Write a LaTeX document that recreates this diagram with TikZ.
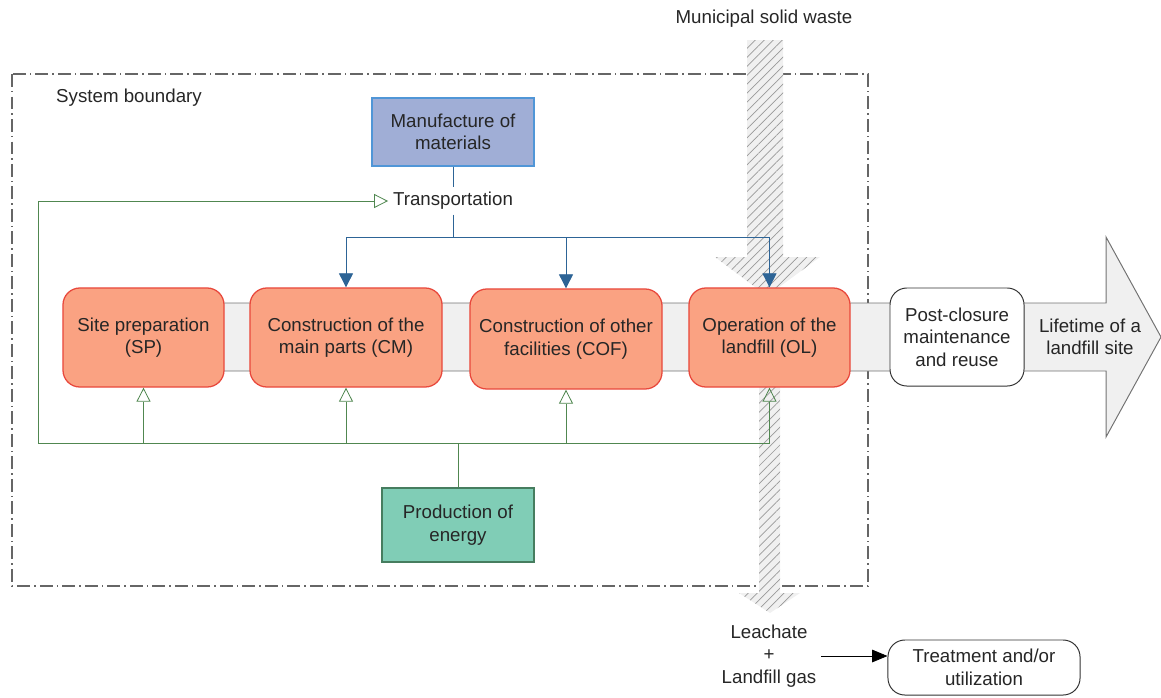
\documentclass[tikz,border=0pt]{standalone}
\usepackage{fontspec}
\setmainfont{Liberation Sans}
\usetikzlibrary{arrows.meta,positioning,patterns.meta}
\definecolor{stageorange}{RGB}{250,162,130}
\definecolor{stagered}{RGB}{232,72,60}
\definecolor{matblue}{RGB}{160,174,214}
\definecolor{matedge}{RGB}{80,150,215}
\definecolor{energygreen}{RGB}{128,205,182}
\definecolor{energyedge}{RGB}{70,125,95}
\definecolor{flowblue}{RGB}{45,100,150}
\definecolor{flowgreen}{RGB}{80,135,80}
\definecolor{bandgray}{RGB}{240,240,240}

\begin{document}
\begin{tikzpicture}[x=0.025cm,y=-0.025cm,
    every node/.style={font=\fontsize{13.3}{16}\selectfont,text=black!85},
    stage/.style={draw=stagered,fill=stageorange,line width=0.9pt,rounded corners=12pt,align=center,minimum height=2.475cm},
    plainbox/.style={draw=black!80,fill=white,line width=0.7pt,rounded corners=12pt,align=center},
    flowline/.style={flowblue,semithick},
    flowarrow/.style={flowblue,semithick,-{Triangle[length=10pt,width=10pt]}},
    energyline/.style={flowgreen,semithick},
    energyarrow/.style={flowgreen,semithick,-{Triangle[open,length=10pt,width=10pt]}},
    hatched/.style={fill=bandgray,postaction={pattern={Lines[angle=45,distance=4.5pt,line width=0.5pt]},pattern color=black!40}}]
    \useasboundingbox (0,0) rectangle (1161,697);

    % System boundary
    \draw[black!60,line width=0.9pt,dash pattern=on 9pt off 3pt on 1pt off 3pt] (12,74) rectangle (868,586);
    \node (boundary) at (129,98) {System boundary};

    % Lifetime band
    \draw[black!55,fill=bandgray,line width=0.7pt] (63,303) -- (1106,303) -- (1106,237) -- (1161,337)
        -- (1106,437) -- (1106,371) -- (63,371);
    \node[align=center] (lifetime) at (1090,337) {Lifetime of a\\landfill site};

    % Waste in and emissions out
    \node (msw) at (764,19) {Municipal solid waste};
    \path[hatched] (747,40) -- (783,40) -- (783,257) -- (820,257) -- (767,296) -- (715,257) -- (747,257) -- cycle;
    \path[hatched] (759,380) -- (780,380) -- (780,593) -- (800,593) -- (770,613) -- (739,593) -- (759,593) -- cycle;

    % Stages
    \node[stage,minimum width=4.025cm] (sp) at (143.5,337.5) {Site preparation\\(SP)};
    \node[stage,minimum width=4.8cm] (cm) at (346,337.5) {Construction of the\\main parts (CM)};
    \node[stage,minimum width=4.8cm,minimum height=2.5cm] (cof) at (566,339) {Construction of other\\facilities (COF)};
    \node[stage,minimum width=4.025cm] (ol) at (769.5,337.5) {Operation of the\\landfill (OL)};
    \node[plainbox,minimum width=3.35cm,minimum height=2.45cm] (post) at (957,337) {Post-closure\\maintenance\\and reuse};

    % Inputs
    \node[draw=matedge,fill=matblue,line width=0.8pt,align=center,minimum width=4.05cm,minimum height=1.7cm] (mfg) at (453,132) {Manufacture of\\materials};
    \node (trans) at (453,201) {Transportation};
    \node[draw=energyedge,fill=energygreen,line width=0.8pt,align=center,minimum width=3.8cm,minimum height=1.85cm] (energy) at (458,525) {Production of\\energy};

    % Outputs
    \node[align=center] (leach) at (769,656) {Leachate\\+\\Landfill gas};
    \node[plainbox,minimum width=4.8cm,minimum height=1.375cm] (treat) at (984,667.5) {Treatment and/or\\utilization};
    \draw[black,semithick,-{Triangle[length=11pt,width=9pt]}] (leach.east) -- (leach.east -| treat.west);

    % Material flows
    \coordinate (bus) at (453,237);
    \draw[flowline] (mfg.south) -- (trans.north);
    \draw[flowline] (trans.south) -- (bus);
    \draw[flowarrow] (bus) -| (cm.north);
    \draw[flowarrow] (bus) -| (cof.north);
    \draw[flowarrow] (bus) -| (ol.north);

    % Energy flows
    \coordinate (gleft) at (38,443);
    \draw[energyline] (energy.north) -- (energy.north |- gleft);
    \draw[energyline] (gleft) -- (ol.south |- gleft);
    \draw[energyarrow] (gleft) |- (trans.west);
    \draw[energyarrow] (sp.south |- gleft) -- (sp.south);
    \draw[energyarrow] (cm.south |- gleft) -- (cm.south);
    \draw[energyarrow] (cof.south |- gleft) -- (cof.south);
    \draw[energyarrow] (ol.south |- gleft) -- (ol.south);
\end{tikzpicture}
\end{document}
